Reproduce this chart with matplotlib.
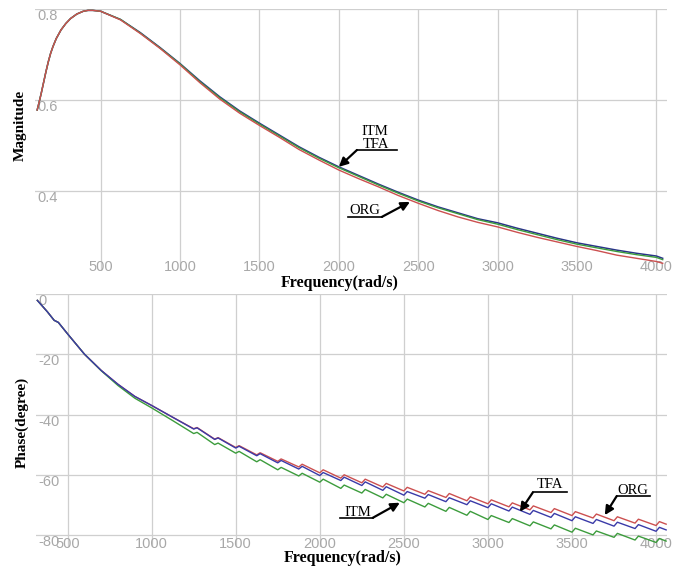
import matplotlib
matplotlib.use('Agg')
import matplotlib.pyplot as plt

plt.rcParams['axes.unicode_minus'] = False

# magnitude response
mag_freq = [100, 110, 125, 140, 155, 170, 185, 200, 220, 250, 280, 310, 350, 390, 420, 450,
            500, 625, 750, 875, 1000, 1125, 1250,
            1375, 1500, 1625, 1750, 1875, 2000, 2125, 2250, 2375, 2500, 2625, 2750, 2875,
            3000, 3125, 3250, 3375, 3500, 3625, 3750, 3875, 4000, 4040]
mag_tfa = [0.578, 0.592, 0.614, 0.638, 0.662, 0.684, 0.703, 0.718, 0.735, 0.754, 0.768, 0.779,
           0.789, 0.795, 0.797, 0.797, 0.795, 0.777, 0.748, 0.715,
           0.680, 0.642, 0.607, 0.576, 0.549, 0.523, 0.497, 0.474, 0.453, 0.434, 0.415, 0.397,
           0.380, 0.365, 0.352, 0.339, 0.330, 0.318, 0.307, 0.296, 0.286, 0.278, 0.270, 0.263,
           0.257, 0.252]
mag_itm = [0.578, 0.592, 0.614, 0.638, 0.662, 0.684, 0.703, 0.718, 0.735, 0.754, 0.768, 0.779,
           0.789, 0.795, 0.797, 0.797, 0.795, 0.777, 0.747, 0.714,
           0.679, 0.640, 0.605, 0.574, 0.547, 0.521, 0.495, 0.472, 0.451, 0.432, 0.413, 0.395,
           0.378, 0.363, 0.350, 0.337, 0.327, 0.315, 0.304, 0.293, 0.283, 0.275, 0.267, 0.260,
           0.254, 0.249]
mag_org = [0.578, 0.592, 0.614, 0.638, 0.662, 0.684, 0.703, 0.718, 0.735, 0.754, 0.768, 0.779,
           0.789, 0.795, 0.797, 0.797, 0.795, 0.776, 0.746, 0.713,
           0.677, 0.638, 0.602, 0.571, 0.544, 0.518, 0.491, 0.468, 0.446, 0.427, 0.409, 0.390,
           0.373, 0.357, 0.343, 0.331, 0.321, 0.309, 0.298, 0.288, 0.278, 0.269, 0.259, 0.252,
           0.245, 0.241]

# phase response (staircase vertices)
ph_freq = [320, 380, 420, 445, 500, 600, 700, 800, 900, 1000, 1125,
           1250, 1270, 1375, 1395, 1500, 1520, 1625, 1645, 1750, 1770, 1875, 1895,
           2000, 2020, 2125, 2145, 2250, 2270, 2375, 2395, 2500, 2520, 2625, 2645,
           2750, 2770, 2875, 2895, 3000, 3020, 3125, 3145, 3250, 3270, 3375, 3395,
           3500, 3520, 3625, 3645, 3750, 3770, 3875, 3895, 4000, 4020, 4060]
ph_tfa = [-2.2, -6.0, -8.8, -9.5, -13.3, -20.0, -25.4, -30.0, -34.0, -37.0, -40.9,
          -44.8, -44.4, -48.25, -47.75, -51.1, -50.5, -53.65, -52.95, -56.0, -55.2,
          -58.05, -57.15, -60.2, -59.2, -61.85, -60.75, -63.5, -62.3, -65.1, -63.9,
          -66.7, -65.5, -67.7, -66.5, -68.85, -67.55, -69.85, -68.55, -70.85, -69.55,
          -71.95, -70.65, -73.05, -71.75, -74.05, -72.75, -75.15, -73.85, -76.05, -74.75,
          -76.95, -75.65, -77.75, -76.45, -78.65, -77.35, -78.2]
ph_org = [-2.2, -6.0, -8.8, -9.5, -13.3, -20.0, -25.4, -30.0, -34.0, -37.0, -40.9,
          -44.7, -44.3, -48.15, -47.65, -50.9, -50.3, -53.35, -52.65, -55.5, -54.7,
          -57.35, -56.45, -59.3, -58.3, -61.05, -59.95, -62.6, -61.4, -64.0, -62.8,
          -65.3, -64.1, -66.4, -65.2, -67.45, -66.15, -68.55, -67.25, -69.55, -68.25,
          -70.55, -69.25, -71.55, -70.25, -72.45, -71.15, -73.45, -72.15, -74.25, -72.95,
          -75.15, -73.85, -75.95, -74.65, -76.75, -75.45, -76.3]
ph_itm = [-2.2, -6.0, -8.8, -9.5, -13.3, -20.0, -25.5, -30.4, -34.6, -37.8, -42.0,
          -46.3, -45.9, -49.95, -49.45, -52.8, -52.2, -55.65, -54.95, -58.3, -57.5,
          -60.35, -59.45, -62.4, -61.4, -64.45, -63.35, -66.0, -64.8, -67.6, -66.4,
          -69.2, -68.0, -70.6, -69.4, -72.05, -70.75, -73.35, -72.05, -74.75, -73.45,
          -75.75, -74.45, -76.85, -75.55, -77.85, -76.55, -78.95, -77.65, -79.85, -78.55,
          -80.65, -79.35, -81.55, -80.25, -82.35, -81.05, -81.9]

freq_ticks = [500, 1000, 1500, 2000, 2500, 3000, 3500, 4000]
mag_ticks = [0.4, 0.6, 0.8]
ph_ticks = [-80, -60, -40, -20, 0]

RED = '#cc5050'
BLUE = '#2a3488'
GREEN = '#3c9c3c'
TICK_C = '#a8a8a8'
SERIF = 'Liberation Serif'

fig = plt.figure(figsize=(6.79, 5.70), dpi=100)
ax1 = fig.add_axes([0.0515, 0.5253, 0.9308, 0.4589])
ax2 = fig.add_axes([0.053, 0.0396, 0.9293, 0.4451])


def style(ax, yticks):
    for s in ax.spines.values():
        s.set_visible(False)
    ax.set_xticks(freq_ticks)
    ax.set_yticks(yticks)
    ax.grid(True, color='#cfcfcf', lw=0.9)
    ax.set_axisbelow(True)
    ax.tick_params(axis='x', length=0, pad=-7.5, labelsize=10.5, labelcolor=TICK_C)
    ax.tick_params(axis='y', length=0, pad=-2, labelsize=10.5, labelcolor=TICK_C)
    for lbl in ax.get_xticklabels() + ax.get_yticklabels():
        lbl.set_family('Liberation Sans')
    for lbl in ax.get_yticklabels():
        lbl.set_ha('left')
        lbl.set_va('top')


# top: magnitude
ax1.plot(mag_freq, mag_tfa, color=BLUE, lw=1.1)
ax1.plot(mag_freq, mag_itm, color=GREEN, lw=1.0)
ax1.plot(mag_freq, mag_org, color=RED, lw=1.0)
ax1.set_xlim(86, 4067)
ax1.set_ylim(0.225, 0.8)
style(ax1, mag_ticks)
ax1.set_yticklabels(['0.4', '0.6', '0.8'])

# bottom: phase
ax2.plot(ph_freq, ph_org, color=RED, lw=1.0)
ax2.plot(ph_freq, ph_itm, color=GREEN, lw=1.0)
ax2.plot(ph_freq, ph_tfa, color='#3a3aa8', lw=1.0)
ax2.set_xlim(312, 4065)
ax2.set_ylim(-84, 0)
style(ax2, ph_ticks)


def tag(ax, text, txy, line_x, line_y, tip, start_right=False):
    ax.text(txy[0], txy[1], text, ha='center', va='center', family=SERIF, fontsize=10.5)
    ax.plot(line_x, [line_y, line_y], color='k', lw=1.2)
    start = (line_x[1], line_y) if start_right else (line_x[0], line_y)
    ax.annotate('', xy=tip, xytext=start,
                arrowprops=dict(arrowstyle='-|>', color='k', lw=1.6,
                                mutation_scale=13, shrinkA=0, shrinkB=0))


ax1.text(2227, 0.530, 'ITM', ha='center', va='center', family=SERIF, fontsize=10.5)
tag(ax1, 'TFA', (2233, 0.503), [2114, 2366], 0.490, (2000, 0.453))
tag(ax1, 'ORG', (2164, 0.356), [2057, 2271], 0.343, (2448, 0.376), start_right=True)

tag(ax2, 'ITM', (2226, -72.3), [2119, 2315], -74.2, (2476, -69.2), start_right=True)
tag(ax2, 'TFA', (3368, -63.3), [3267, 3469], -65.8, (3190, -72.2))
tag(ax2, 'ORG', (3862, -65.0), [3766, 3962], -67.0, (3695, -73.3))

lab = dict(family=SERIF, fontweight='bold', fontsize=11, ha='center', va='center')
fig.text(0.0295, 0.7807, 'Magnitude', rotation=90, **lab)
fig.text(0.0324, 0.2596, 'Phase(degree)', rotation=90, **lab)
lab['fontsize'] = 11.5
fig.text(0.5007, 0.5035, 'Frequency(rad/s)', **lab)
fig.text(0.505, 0.0205, 'Frequency(rad/s)', **lab)

fig.savefig('out.png', dpi=100)
